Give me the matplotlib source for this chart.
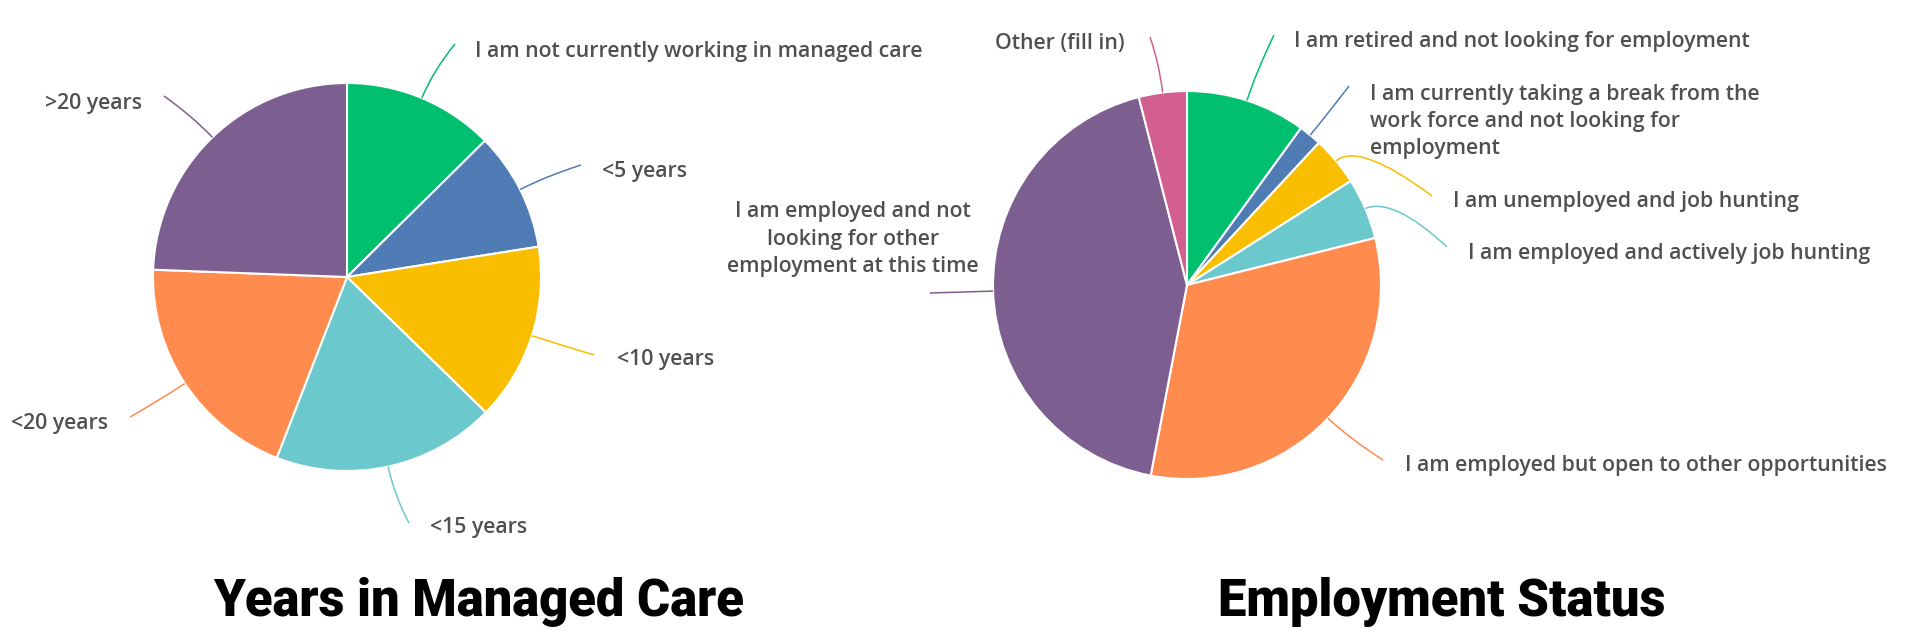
import matplotlib.pyplot as plt
from matplotlib.path import Path
from matplotlib.patches import PathPatch
import numpy as np

W, H = 1920, 634

# data (percent of respondents)
years_labels = ['I am not currently working in managed care', '<5 years', '<10 years',
                '<15 years', '<20 years', '>20 years']
years_values = [12.6, 9.9, 14.8, 18.6, 19.7, 24.4]

status_labels = ['I am retired and not looking for employment',
                 'I am currently taking a break from the\nwork force and not looking for\nemployment',
                 'I am unemployed and job hunting',
                 'I am employed and actively job hunting',
                 'I am employed but open to other opportunities',
                 'I am employed and not\nlooking for other\nemployment at this time',
                 'Other (fill in)']
status_values = [10.0, 1.9, 4.1, 5.1, 31.9, 43.0, 4.0]

titles = ['Years in Managed Care', 'Employment Status']

palette = ['#00BF6F', '#507CB6', '#F9BE00', '#6BC8CD', '#FF8B4F', '#7D5E90', '#D25F90']

# label placement in pixels (x, y from top, ha, end of leader line x, y)
years_layout = [(475, 52, 'left', 455, 44),
                (602, 171, 'left', 581, 165),
                (617, 360, 'left', 594, 355),
                (430, 528, 'left', 409, 523),
                (108, 424, 'right', 130, 417),
                (142, 104, 'right', 164, 96)]
status_layout = [(1294, 41, 'left', 1274, 35),
                 (1370, 121.5, 'left', 1349, 86),
                 (1453, 202, 'left', 1432, 196),
                 (1468, 253, 'left', 1447, 247),
                 (1405, 466, 'left', 1383, 460),
                 (853, 239, 'center', 930, 293),
                 (1125, 43, 'right', 1150, 37)]

plt.rcParams['font.family'] = ['Open Sans', 'DejaVu Sans']

fig = plt.figure(figsize=(W / 100, H / 100), dpi=100)
ax = fig.add_axes([0, 0, 1, 1])


def flip(x, y):
    return x, H - y


def draw_pie(values, labels, center, radius, layout):
    cx, cy = flip(*center)
    wedges, _ = ax.pie(values, colors=palette[:len(values)], startangle=90, counterclock=False,
                       center=(cx, cy), radius=radius,
                       wedgeprops=dict(edgecolor='white', linewidth=1.5))
    for w, lab, (tx, ty, ha, ex, ey) in zip(wedges, labels, layout):
        mid = np.deg2rad((w.theta1 + w.theta2) / 2)
        ux, uy = np.cos(mid), np.sin(mid)
        x0, y0 = cx + radius * ux, cy + radius * uy
        x1, y1 = x0 + 30 * ux, y0 + 30 * uy
        path = Path([(x0, y0), (x1, y1), flip(ex, ey)], [Path.MOVETO, Path.CURVE3, Path.CURVE3])
        ax.add_patch(PathPatch(path, fc='none', ec=w.get_facecolor(), lw=1.1))
        ax.text(*flip(tx, ty), lab, ha=ha, va='center', fontsize=15.3, color='#505050',
                fontweight='semibold', linespacing=1.38, multialignment=ha)


draw_pie(years_values, years_labels, (347, 277), 194, years_layout)
draw_pie(status_values, status_labels, (1187, 285), 194, status_layout)

for x, t in zip([479, 1442], titles):
    ax.text(*flip(x, 616), t, ha='center', va='baseline', fontsize=36.5,
            fontweight='black', color='black', family=['Roboto', 'DejaVu Sans'])

ax.set_xlim(0, W)
ax.set_ylim(0, H)
ax.set_aspect('equal')
ax.axis('off')

fig.savefig('out.png', dpi=100, facecolor='white')
